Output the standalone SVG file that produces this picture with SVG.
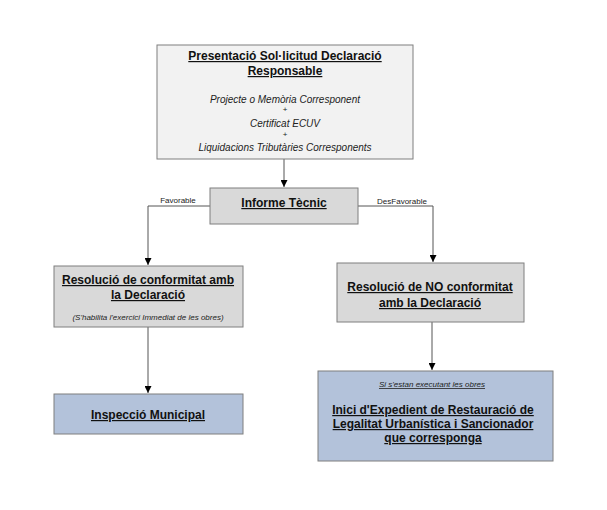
<svg xmlns="http://www.w3.org/2000/svg" width="607" height="510" viewBox="0 0 607 510">
<defs>
<style>
.box{stroke:#7f7f7f;stroke-width:1}
.light{fill:#f2f2f2}
.gray{fill:#d9d9d9}
.blue{fill:#b3c2da}
text{font-family:"Liberation Sans",Arial,sans-serif;fill:#111;text-anchor:middle}
.t{font-size:12px;font-weight:bold;text-decoration:underline}
.i{font-size:10px;font-style:italic;fill:#222}
.p{font-size:8px;fill:#222}
.s{font-size:8px;font-style:italic;fill:#222}
.lbl{font-size:8px;fill:#222}
.c{fill:none;stroke:#555;stroke-width:1}
</style>
<marker id="ah" markerWidth="7" markerHeight="7" refX="7" refY="3.5" orient="auto" markerUnits="userSpaceOnUse">
<path d="M0,0 L7,3.5 L0,7 Z" fill="#000"/>
</marker>
</defs>
<rect width="607" height="510" fill="#fff"/>
<g id="connectors">
<line class="c" x1="284" y1="159" x2="284" y2="187" marker-end="url(#ah)"/>
<polyline class="c" points="210,206 148,206 148,265" marker-end="url(#ah)"/>
<polyline class="c" points="358,206 433,206 433,262" marker-end="url(#ah)"/>
<line class="c" x1="148" y1="327" x2="148" y2="393" marker-end="url(#ah)"/>
<line class="c" x1="432" y1="322" x2="432" y2="370" marker-end="url(#ah)"/>
<text class="lbl" x="178" y="203">Favorable</text>
<text class="lbl" x="402" y="204">DesFavorable</text>
</g>
<g id="presentacio">
<rect class="box light" x="157" y="45" width="256" height="114"/>
<text class="t" x="285" y="60">Presentació Sol·licitud Declaració</text>
<text class="t" x="285" y="75">Responsable</text>
<text class="i" x="285" y="103">Projecte o Memòria Corresponent</text>
<text class="p" x="285" y="112">+</text>
<text class="i" x="285" y="127">Certificat ECUV</text>
<text class="p" x="285" y="137">+</text>
<text class="i" x="285" y="151">Liquidacions Tributàries Corresponents</text>
</g>
<g id="informe">
<rect class="box gray" x="210" y="188" width="148" height="36"/>
<text class="t" x="284" y="207">Informe Tècnic</text>
</g>
<g id="conformitat">
<rect class="box gray" x="54" y="266" width="189" height="61"/>
<text class="t" x="148" y="284">Resolució de conformitat amb</text>
<text class="t" x="148" y="299">la Declaració</text>
<text class="s" x="148" y="320">(S'habilita l'exercici Immediat de les obres)</text>
</g>
<g id="noconformitat">
<rect class="box gray" x="337" y="263" width="187" height="59"/>
<text class="t" x="430" y="291">Resolució de NO conformitat</text>
<text class="t" x="430" y="307">amb la Declaració</text>
</g>
<g id="inspeccio">
<rect class="box blue" x="54" y="394" width="189" height="40"/>
<text class="t" x="148" y="419">Inspecció Municipal</text>
</g>
<g id="expedient">
<rect class="box blue" x="318" y="371" width="235" height="90"/>
<text class="s" x="432" y="387" style="text-decoration:underline">Si s'estan executant les obres</text>
<text class="t" x="433" y="414">Inici d'Expedient de Restauració de</text>
<text class="t" x="433" y="428">Legalitat Urbanística i Sancionador</text>
<text class="t" x="433" y="442">que corresponga</text>
</g>
</svg>
